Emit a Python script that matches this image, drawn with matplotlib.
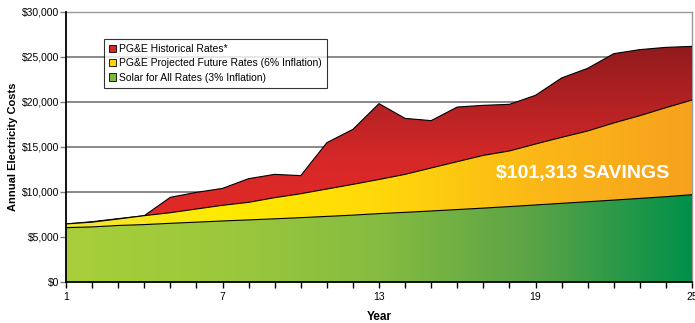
import numpy as np
import matplotlib
matplotlib.use("Agg")
import matplotlib.pyplot as plt
from matplotlib.colors import LinearSegmentedColormap
from matplotlib.patches import Patch, Polygon
from matplotlib.ticker import FuncFormatter, MultipleLocator

plt.rcParams["font.family"] = ["Liberation Sans", "DejaVu Sans"]

years = np.arange(1, 26)
historical = [6450, 6700, 7040, 7370, 9410, 9960, 10400, 11480, 11960, 11820,
              15480, 16960, 19820, 18180, 17930, 19440, 19630, 19740, 20740,
              22670, 23740, 25370, 25820, 26070, 26180]
projected = [6450, 6650, 7000, 7370, 7700, 8110, 8520, 8850, 9370, 9810,
             10330, 10850, 11390, 11960, 12670, 13370, 14070, 14560, 15330,
             16070, 16780, 17670, 18480, 19370, 20220]
solar = [6040, 6120, 6280, 6380, 6520, 6650, 6780, 6900, 7020, 7150, 7290,
         7430, 7600, 7740, 7890, 8050, 8210, 8380, 8560, 8740, 8920, 9100,
         9290, 9480, 9700]
series_names = ["PG&E Historical Rates*",
                "PG&E Projected Future Rates (6% Inflation)",
                "Solar for All Rates (3% Inflation)"]
savings_label = "$101,313 SAVINGS"


def gradient_area(ax, x, y, colors, vertical, z, extent_y=(0, 30000)):
    verts = [(x[0], 0)] + list(zip(x, y)) + [(x[-1], 0)]
    clip = Polygon(verts, closed=True, facecolor="none", edgecolor="none",
                   transform=ax.transData)
    ax.add_patch(clip)
    cmap = LinearSegmentedColormap.from_list("g", colors)
    if vertical:
        grad = np.linspace(0, 1, 256).reshape(-1, 1)
    else:
        grad = np.linspace(0, 1, 256).reshape(1, -1)
    im = ax.imshow(grad, cmap=cmap, aspect="auto", origin="lower",
                   extent=[x[0], x[-1], extent_y[0], extent_y[1]], zorder=z,
                   interpolation="bilinear")
    im.set_clip_path(clip)
    ax.plot(x, y, color="black", lw=0.8, zorder=z + 0.5)


fig = plt.figure(figsize=(6.95, 3.23), dpi=100)
ax = fig.add_axes([66 / 695, 1 - 282 / 323, 626 / 695, 270 / 323])

gradient_area(ax, years, historical, ["#EE2D24", "#D62828", "#8C1A1D"], True, 3,
              extent_y=(0, 27000))
gradient_area(ax, years, projected,
              ["#F3E538", "#FFEA00", "#FFD80A", "#FBB817", "#F7A21E"], False, 4)
gradient_area(ax, years, solar,
              ["#A8CF3A", "#9CC83C", "#86BC41", "#5AA346", "#00904A"], False, 5)

ax.set_xlim(1, 25)
ax.set_ylim(0, 30000)
ax.yaxis.set_major_locator(MultipleLocator(5000))
ax.yaxis.set_major_formatter(FuncFormatter(lambda v, p: f"${v:,.0f}"))
ax.set_xticks([1, 7, 13, 19, 25])
ax.set_xticks(years, minor=True)
ax.grid(axis="y", color="#808080", lw=1.3, zorder=1)
ax.set_axisbelow(True)
ax.tick_params(axis="both", labelsize=7.5, colors="black", length=4, width=1)
ax.tick_params(axis="x", which="minor", length=4, width=1)
ax.tick_params(axis="y", length=4, color="#808080", pad=1)
for s in ["left", "bottom"]:
    ax.spines[s].set_color("black")
    ax.spines[s].set_linewidth(1.3)
    ax.spines[s].set_zorder(10)
for s in ["top", "right"]:
    ax.spines[s].set_color("#999999")
    ax.spines[s].set_linewidth(1.0)

ax.set_xlabel("Year", fontsize=8.5, fontweight="bold", labelpad=6)
ax.set_ylabel("Annual Electricity Costs", fontsize=8, fontweight="bold")
ax.yaxis.set_label_coords((18 - 66) / 626, 0.5)

handles = [Patch(facecolor="#D62828", edgecolor="black", lw=0.6),
           Patch(facecolor="#FFD400", edgecolor="black", lw=0.6),
           Patch(facecolor="#7DB83F", edgecolor="black", lw=0.6)]
leg = ax.legend(handles, series_names, loc="upper left",
                bbox_to_anchor=(0.06, 0.9), fontsize=7.5, frameon=True,
                fancybox=False, handlelength=0.7, handleheight=0.7,
                handletextpad=0.3, borderpad=0.5, labelspacing=0.4,
                borderaxespad=0)
leg.get_frame().set_edgecolor("black")
leg.get_frame().set_linewidth(0.8)
leg.set_zorder(20)

ax.text(20.8, 12000, savings_label, color="white", fontsize=14,
        fontweight="bold", ha="center", va="center", zorder=15)

fig.savefig("out.png", dpi=100)
